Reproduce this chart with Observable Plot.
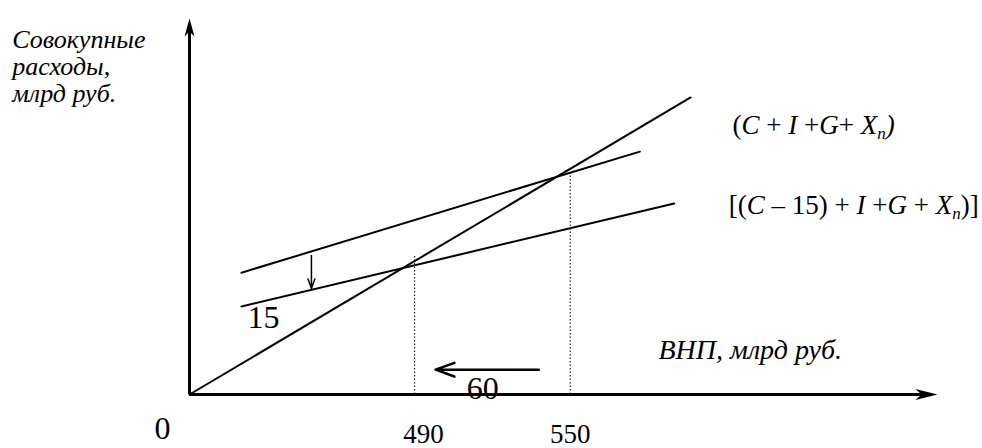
<!DOCTYPE html>
<html>
<head>
<meta charset="utf-8">
<script src="https://cdn.jsdelivr.net/npm/d3@7"></script>
<script src="https://cdn.jsdelivr.net/npm/@observablehq/plot@0.6"></script>
<style>
  html, body { margin: 0; padding: 0; background: #fff; }
  #chart svg { display: block; }
  #chart text { font-family: "Liberation Serif", "DejaVu Serif", serif; }
</style>
</head>
<body>
<div id="chart"></div>
<script>
// ---- data (schematic units: x and y both 0..100 along the drawn axes) ----
const axisLengthX = 100;
const axisLengthY = 100;

// 45-degree line (aggregate expenditure = GNP)
const line45X = [0, 67.0];
const line45Y = [0, 79.0];

// C + I + G + Xn
const aeX = [6.95, 60.2];
const aeY = [32.4, 64.6];

// (C - 15) + I + G + Xn
const aeLowX = [6.95, 64.8];
const aeLowY = [23.4, 50.8];

// equilibrium drop lines
const eqX = [30.1, 50.9];
const eqY = [37.2, 60.1];

// tick labels
const tickX = [31.3, 50.9];
const tickLabels = ["490", "550"];

// shift arrows
const downArrow = { x: 16.3, y1: 37.0, y2: 28.2 };
const leftArrow = { x1: 46.7, x2: 32.9, y: 6.6 };

// annotations
const noteTexts = ["15", "60", "0"];
const noteX = [9.9, 39.2, -3.6];
const noteY = [20.5, 1.6, -9.0];

const yTitle = "Совокупные\nрасходы,\nмлрд руб.";
const xTitle = "ВНП, млрд руб.";
const legendTexts = ["(C + I +G+ Xn)", "[(C – 15) + I +G + Xn)]"];
const legendX = [72.6, 72.1];
const legendY = [71.7, 50.4];

// legend rich-text segments: [text, italic, subscript]
const legendSegments = {
  "(C + I +G+ Xn)": [["(",0,0],["C",1,0],[" + ",0,0],["I",1,0],[" +",0,0],["G",1,0],["+ ",0,0],["X",1,0],["n",1,1],[")",1,0]],
  "[(C – 15) + I +G + Xn)]": [["[(",0,0],["C",1,0],[" – 15) + ",0,0],["I",1,0],[" +",0,0],["G",1,0],[" + ",0,0],["X",1,0],["n",1,1],[")]",0,0]]
};

// ---- build tables ----
const seg = (xs, ys, name) => xs.map((x, i) => ({ x, y: ys[i], name }));
const lines = [
  ...seg(line45X, line45Y, "45"),
  ...seg(aeX, aeY, "ae"),
  ...seg(aeLowX, aeLowY, "aeLow")
];
const drops = eqX.map((x, i) => ({ x, y1: 0, y2: eqY[i] }));
const notes = noteTexts.map((t, i) => ({ t, x: noteX[i], y: noteY[i] }));
const legends = legendTexts.map((t, i) => ({ t, x: legendX[i], y: legendY[i] }));

// stealth arrowhead symbols (tip at the anchor point)
const arrowUp = { draw(ctx) { ctx.moveTo(0, 0); ctx.lineTo(5, 18); ctx.lineTo(0, 13); ctx.lineTo(-5, 18); ctx.closePath(); } };
const arrowRight = { draw(ctx) { ctx.moveTo(0, 0); ctx.lineTo(-22, -5.5); ctx.lineTo(-16, 0); ctx.lineTo(-22, 5.5); ctx.closePath(); } };

const serif = "Liberation Serif";

const plot = Plot.plot({
  width: 982,
  height: 448,
  marginLeft: 189,
  marginRight: 45,
  marginTop: 18,
  marginBottom: 54,
  x: { domain: [0, axisLengthX], axis: null },
  y: { domain: [0, axisLengthY], axis: null },
  style: { fontSize: "22px", background: "#fff", color: "#000" },
  marks: [
    // drop lines
    Plot.ruleX(drops, { x: "x", y1: "y1", y2: "y2", stroke: "#000", strokeWidth: 1, strokeDasharray: "1.5,2" }),
    // expenditure lines
    Plot.line(lines, { x: "x", y: "y", z: "name", stroke: "#000", strokeWidth: 2 }),
    // axes
    Plot.ruleY([0], { x1: 0, x2: axisLengthX - 2, stroke: "#000", strokeWidth: 3 }),
    Plot.ruleX([0], { y1: 0, y2: axisLengthY - 3, stroke: "#000", strokeWidth: 3 }),
    Plot.dot([{ x: axisLengthX, y: 0 }], { x: "x", y: "y", symbol: arrowRight, fill: "#000", stroke: "none" }),
    Plot.dot([{ x: 0, y: axisLengthY }], { x: "x", y: "y", symbol: arrowUp, fill: "#000", stroke: "none" }),
    // shift arrows
    Plot.arrow([downArrow], { x: "x", y1: "y1", y2: "y2", stroke: "#000", strokeWidth: 1.5, headLength: 10, headAngle: 40 }),
    Plot.arrow([leftArrow], { x1: "x1", x2: "x2", y: "y", stroke: "#000", strokeWidth: 2.5, headLength: 12, headAngle: 40 }),
    // tick labels
    Plot.axisX({
      ticks: tickX,
      tickFormat: d => tickLabels[tickX.indexOf(d)],
      tickSize: 0,
      tickPadding: 29,
      fontSize: 27,
      fontFamily: serif,
      label: null,
      stroke: "none"
    }),
    // annotations
    Plot.text(notes, { x: "x", y: "y", text: "t", fontSize: 32, fontFamily: serif, fill: "#000" }),
    // axis titles
    Plot.text([yTitle], { x: -23.7, y: 97.2, text: d => d, textAnchor: "start", lineAnchor: "top", lineHeight: 1.04, fontSize: 26, fontFamily: serif, fontStyle: "italic", fill: "#000" }),
    Plot.text([xTitle], { x: 62.7, y: 11.7, text: d => d, textAnchor: "start", fontSize: 28, fontFamily: serif, fontStyle: "italic", fill: "#000" }),
    // line labels
    Plot.text(legends, { x: "x", y: "y", text: "t", textAnchor: "start", fontSize: 27, fontFamily: serif, fill: "#000" })
  ]
});

// rich text for line labels (italic letters, subscript n)
d3.select(plot).selectAll("text").each(function () {
  const el = this;
  const segs = legendSegments[el.textContent];
  if (!segs) return;
  el.textContent = "";
  const ns = "http://www.w3.org/2000/svg";
  let prevSub = false;
  for (const [txt, it, sub] of segs) {
    const ts = document.createElementNS(ns, "tspan");
    ts.textContent = txt;
    if (it) ts.setAttribute("font-style", "italic");
    if (sub) { ts.setAttribute("font-size", "17"); ts.setAttribute("dy", "5"); }
    else if (prevSub) ts.setAttribute("dy", "-5");
    prevSub = !!sub;
    el.appendChild(ts);
  }
});

document.getElementById("chart").appendChild(plot);
</script>
</body>
</html>
